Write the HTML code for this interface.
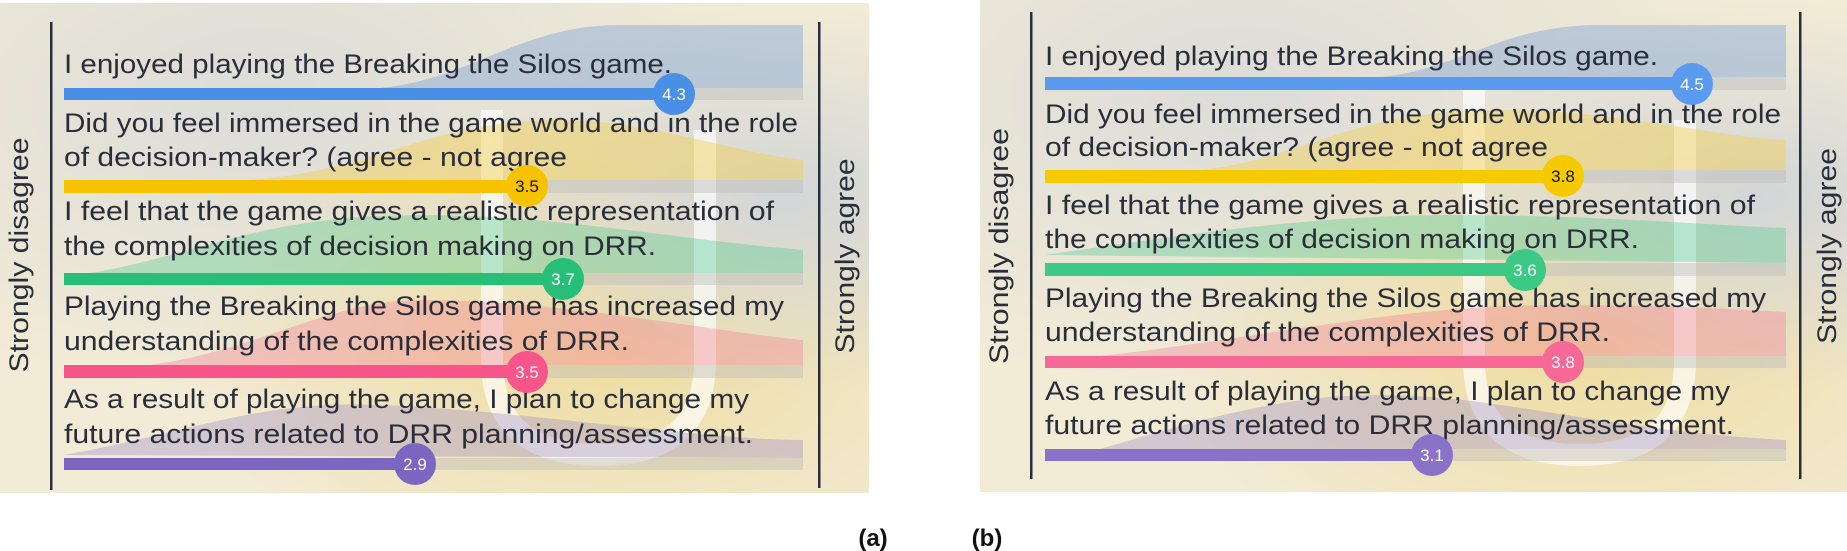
<!DOCTYPE html>
<html><head><meta charset="utf-8"><style>
html,body{margin:0;padding:0;background:#fff;}
svg{display:block;}
text{font-family:"Liberation Sans",sans-serif;}
</style></head><body>
<svg width="1847" height="551" viewBox="0 0 1847 551" xmlns="http://www.w3.org/2000/svg">
<defs>
<radialGradient id="g1" cx="0.3" cy="0.2" r="0.6"><stop offset="0" stop-color="#dcdcd8"/><stop offset="1" stop-color="#dcdcd8" stop-opacity="0"/></radialGradient>
<radialGradient id="g2" cx="0.7" cy="0.7" r="0.5"><stop offset="0" stop-color="#eedc9e"/><stop offset="1" stop-color="#eedc9e" stop-opacity="0"/></radialGradient>
<radialGradient id="g3" cx="0.9" cy="0.4" r="0.4"><stop offset="0" stop-color="#d3d6d8"/><stop offset="1" stop-color="#d3d6d8" stop-opacity="0"/></radialGradient>
</defs>

<!-- ============ LEFT PANEL ============ -->
<g>
<rect x="0" y="3" width="869" height="490" fill="#f2ebd6"/>
<rect x="0" y="3" width="869" height="490" fill="url(#g1)"/>
<rect x="0" y="3" width="869" height="490" fill="url(#g2)"/>
<rect x="0" y="3" width="869" height="490" fill="url(#g3)"/>
<path d="M492 110 L492 360 Q492 455 600 455 Q705 455 705 360 L705 130" fill="none" stroke="#fff" stroke-opacity="0.65" stroke-width="22"/>

<path d="M380 88 C470 80 520 25 620 25 L803 25 L803 88 Z" fill="#5d90d6" fill-opacity="0.33"/>
<rect x="64" y="88" width="739" height="12" fill="#b8b8b8" fill-opacity="0.4"/>
<path d="M250 180 C380 170 430 120 560 120 C650 120 720 150 803 160 L803 180 Z" fill="#f5cc40" fill-opacity="0.4"/>
<rect x="64" y="180" width="739" height="13" fill="#b8b8b8" fill-opacity="0.4"/>
<path d="M90 273 C200 255 260 215 420 215 C560 215 680 240 803 250 L803 273 Z" fill="#3cc78a" fill-opacity="0.33"/>
<rect x="64" y="273" width="739" height="12" fill="#b8b8b8" fill-opacity="0.4"/>
<path d="M150 365 C260 350 330 300 420 300 C560 300 700 330 803 340 L803 365 Z" fill="#f7708f" fill-opacity="0.33"/>
<rect x="64" y="365" width="739" height="13" fill="#b8b8b8" fill-opacity="0.4"/>
<path d="M64 455 C200 430 260 400 380 405 C520 410 700 440 803 440 L803 458 Z" fill="#8a78c8" fill-opacity="0.3"/>
<rect x="64" y="458" width="739" height="12" fill="#b8b8b8" fill-opacity="0.4"/>

<rect x="50" y="22" width="2.5" height="468" fill="#2a2d3a"/>
<rect x="818" y="22" width="2.5" height="466" fill="#2a2d3a"/>
<text transform="translate(28,255) rotate(-90)" text-anchor="middle" font-size="27" fill="#2a2d3a" textLength="235" lengthAdjust="spacingAndGlyphs">Strongly disagree</text>
<text transform="translate(854,256) rotate(-90)" text-anchor="middle" font-size="27" fill="#2a2d3a" textLength="195" lengthAdjust="spacingAndGlyphs">Strongly agree</text>

<g font-size="27" fill="#2a2d3a">
<text x="64" y="73" textLength="608" lengthAdjust="spacingAndGlyphs">I enjoyed playing the Breaking the Silos game.</text>
<text x="64" y="132" textLength="734" lengthAdjust="spacingAndGlyphs">Did you feel immersed in the game world and in the role</text>
<text x="64" y="166" textLength="503" lengthAdjust="spacingAndGlyphs">of decision-maker? (agree - not agree</text>
<text x="64" y="220" textLength="710" lengthAdjust="spacingAndGlyphs">I feel that the game gives a realistic representation of</text>
<text x="64" y="255" textLength="592" lengthAdjust="spacingAndGlyphs">the complexities of decision making on DRR.</text>
<text x="64" y="315" textLength="720" lengthAdjust="spacingAndGlyphs">Playing the Breaking the Silos game has increased my</text>
<text x="64" y="350" textLength="565" lengthAdjust="spacingAndGlyphs">understanding of the complexities of DRR.</text>
<text x="64" y="408" textLength="685" lengthAdjust="spacingAndGlyphs">As a result of playing the game, I plan to change my</text>
<text x="64" y="443" textLength="689" lengthAdjust="spacingAndGlyphs">future actions related to DRR planning/assessment.</text>
</g>

<rect x="64" y="88" width="610" height="12" fill="#4a8fe6"/>
<circle cx="674" cy="94" r="21" fill="#4a8fe6"/>
<text x="674" y="100" text-anchor="middle" font-size="17" fill="#fff">4.3</text>
<rect x="64" y="180" width="463" height="13" fill="#f7c300"/>
<circle cx="527" cy="186" r="21" fill="#f7c300"/>
<text x="527" y="192" text-anchor="middle" font-size="17" fill="#111">3.5</text>
<rect x="64" y="273" width="499" height="12" fill="#27bf78"/>
<circle cx="563" cy="279" r="21" fill="#27bf78"/>
<text x="563" y="285" text-anchor="middle" font-size="17" fill="#fff">3.7</text>
<rect x="64" y="365" width="463" height="13" fill="#f8558a"/>
<circle cx="527" cy="372" r="21" fill="#f8558a"/>
<text x="527" y="378" text-anchor="middle" font-size="17" fill="#fff">3.5</text>
<rect x="64" y="458" width="351" height="12" fill="#7b67c2"/>
<circle cx="415" cy="464" r="21" fill="#7b67c2"/>
<text x="415" y="470" text-anchor="middle" font-size="17" fill="#fff">2.9</text>
</g>

<!-- ============ RIGHT PANEL ============ -->
<g>
<rect x="980" y="0" width="867" height="492" fill="#f2ebd6"/>
<rect x="980" y="0" width="867" height="492" fill="url(#g1)"/>
<rect x="980" y="0" width="867" height="492" fill="url(#g2)"/>
<rect x="980" y="0" width="867" height="492" fill="url(#g3)"/>
<path d="M1474 90 L1474 360 Q1474 455 1580 455 Q1685 455 1685 360 L1685 120" fill="none" stroke="#fff" stroke-opacity="0.65" stroke-width="22"/>

<path d="M1380 77 C1460 70 1500 25 1600 25 L1786 25 L1786 77 Z" fill="#5d90d6" fill-opacity="0.33"/>
<rect x="1045" y="77" width="741" height="13" fill="#b8b8b8" fill-opacity="0.4"/>
<path d="M1200 170 C1300 160 1350 110 1500 110 C1620 110 1700 135 1786 140 L1786 170 Z" fill="#f5cc40" fill-opacity="0.4"/>
<rect x="1045" y="170" width="741" height="13" fill="#b8b8b8" fill-opacity="0.4"/>
<path d="M1045 255 C1150 240 1300 215 1450 215 C1600 215 1700 225 1786 228 L1786 263 Z" fill="#3cc78a" fill-opacity="0.33"/>
<rect x="1045" y="263" width="741" height="13" fill="#b8b8b8" fill-opacity="0.4"/>
<path d="M1100 356 C1250 340 1400 305 1550 305 C1680 305 1740 310 1786 312 L1786 356 Z" fill="#f7708f" fill-opacity="0.33"/>
<rect x="1045" y="356" width="741" height="12" fill="#b8b8b8" fill-opacity="0.4"/>
<path d="M1100 449 C1200 420 1280 395 1380 395 C1500 395 1600 430 1786 440 L1786 449 Z" fill="#8a78c8" fill-opacity="0.3"/>
<rect x="1045" y="449" width="741" height="12" fill="#b8b8b8" fill-opacity="0.4"/>

<rect x="1030" y="12" width="2.5" height="467" fill="#2a2d3a"/>
<rect x="1799" y="12" width="2.5" height="467" fill="#2a2d3a"/>
<text transform="translate(1008,246) rotate(-90)" text-anchor="middle" font-size="27" fill="#2a2d3a" textLength="236" lengthAdjust="spacingAndGlyphs">Strongly disagree</text>
<text transform="translate(1836,246) rotate(-90)" text-anchor="middle" font-size="27" fill="#2a2d3a" textLength="196" lengthAdjust="spacingAndGlyphs">Strongly agree</text>

<g font-size="27" fill="#2a2d3a">
<text x="1045" y="65" textLength="613" lengthAdjust="spacingAndGlyphs">I enjoyed playing the Breaking the Silos game.</text>
<text x="1045" y="123" textLength="736" lengthAdjust="spacingAndGlyphs">Did you feel immersed in the game world and in the role</text>
<text x="1045" y="156" textLength="503" lengthAdjust="spacingAndGlyphs">of decision-maker? (agree - not agree</text>
<text x="1045" y="214" textLength="710" lengthAdjust="spacingAndGlyphs">I feel that the game gives a realistic representation of</text>
<text x="1045" y="248" textLength="594" lengthAdjust="spacingAndGlyphs">the complexities of decision making on DRR.</text>
<text x="1045" y="307" textLength="721" lengthAdjust="spacingAndGlyphs">Playing the Breaking the Silos game has increased my</text>
<text x="1045" y="341" textLength="565" lengthAdjust="spacingAndGlyphs">understanding of the complexities of DRR.</text>
<text x="1045" y="400" textLength="685" lengthAdjust="spacingAndGlyphs">As a result of playing the game, I plan to change my</text>
<text x="1045" y="434" textLength="689" lengthAdjust="spacingAndGlyphs">future actions related to DRR planning/assessment.</text>
</g>

<rect x="1045" y="77" width="647" height="13" fill="#5b9bef"/>
<circle cx="1692" cy="84" r="21" fill="#5b9bef"/>
<text x="1692" y="90" text-anchor="middle" font-size="17" fill="#fff">4.5</text>
<rect x="1045" y="170" width="518" height="13" fill="#f5cb00"/>
<circle cx="1563" cy="176" r="21" fill="#f5cb00"/>
<text x="1563" y="182" text-anchor="middle" font-size="17" fill="#111">3.8</text>
<rect x="1045" y="263" width="480" height="13" fill="#3cc985"/>
<circle cx="1525" cy="270" r="21" fill="#3cc985"/>
<text x="1525" y="276" text-anchor="middle" font-size="17" fill="#fff">3.6</text>
<rect x="1045" y="356" width="518" height="12" fill="#f66896"/>
<circle cx="1563" cy="362" r="21" fill="#f66896"/>
<text x="1563" y="368" text-anchor="middle" font-size="17" fill="#fff">3.8</text>
<rect x="1045" y="449" width="387" height="12" fill="#8a72c8"/>
<circle cx="1432" cy="455" r="21" fill="#8a72c8"/>
<text x="1432" y="461" text-anchor="middle" font-size="17" fill="#fff">3.1</text>
</g>

<text x="873" y="546" text-anchor="middle" font-family="DejaVu Sans, sans-serif" font-weight="bold" font-size="24" fill="#111">(a)</text>
<text x="987" y="546" text-anchor="middle" font-family="DejaVu Sans, sans-serif" font-weight="bold" font-size="24" fill="#111">(b)</text>
</svg>
</body></html>
